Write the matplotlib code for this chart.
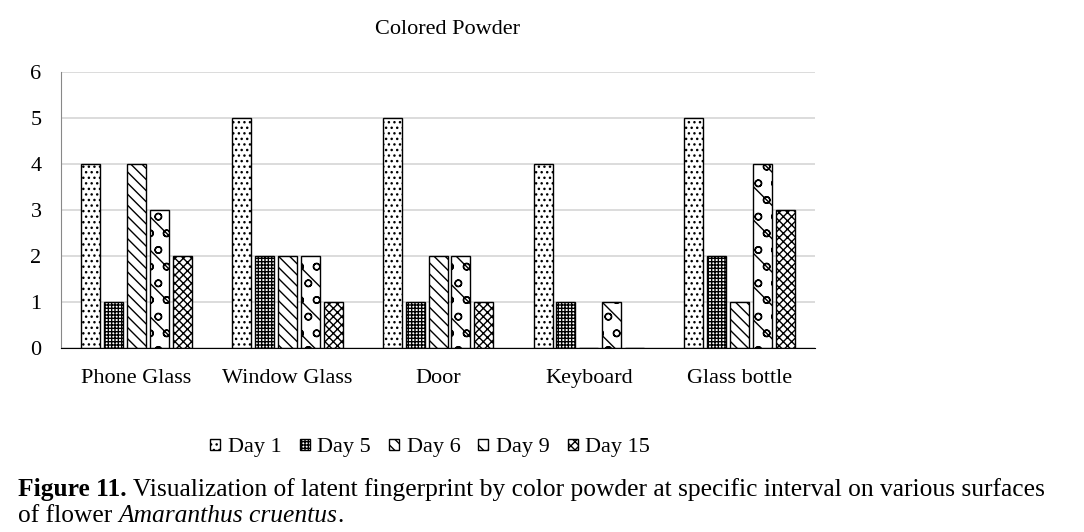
import matplotlib
matplotlib.use("Agg")
import matplotlib.pyplot as plt
import numpy as np

# Data
surfaces = ["Phone Glass", "Window Glass", "Door", "Keyboard", "Glass bottle"]
series_names = ["Day 1", "Day 5", "Day 6", "Day 9", "Day 15"]
day1 = [4, 5, 5, 4, 5]
day5 = [1, 2, 1, 1, 2]
day6 = [4, 2, 2, 0, 1]
day9 = [3, 2, 2, 1, 4]
day15 = [2, 1, 1, 0, 3]


def main():
    plt.rcParams.update({
        "font.family": ["Liberation Serif", "DejaVu Serif"],
        "font.size": 16,
        "hatch.linewidth": 1.0,
    })

    fig = plt.figure(figsize=(10.84, 5.32), dpi=100)
    ax = fig.add_axes([0.0563, 0.3459, 0.6956, 0.5188])

    values = [day1, day5, day6, day9, day15]
    hatches = ["...", "+++++", "\\\\\\", "o\\", "xxxx"]
    x = np.arange(len(surfaces))
    step = 0.152
    width = 0.126

    for i, (name, vals) in enumerate(zip(series_names, values)):
        ax.bar(x + (i - 2) * step, vals, width, label=name, color="white",
               edgecolor="black", linewidth=1.0, hatch=hatches[i], zorder=3)

    ax.set_xlim(-0.5, len(surfaces) - 0.5)
    ax.set_ylim(0, 6)
    ax.set_yticks(range(0, 7))
    ax.set_xticks(x)
    ax.set_xticklabels(surfaces)
    ax.tick_params(axis="both", length=0, labelsize=16)
    ax.tick_params(axis="y", pad=14)
    ax.tick_params(axis="x", pad=15)
    ax.grid(axis="y", color="#d9d9d9", linewidth=1.3, zorder=0)
    for s in ["top", "right"]:
        ax.spines[s].set_visible(False)
    ax.spines["left"].set_color("#888888")
    ax.spines["bottom"].set_color("black")
    ax.spines["bottom"].set_zorder(4)

    fig.text(0.413, 0.945, "Colored Powder", ha="center", va="center", fontsize=16)

    fig.legend(loc="center", bbox_to_anchor=(0.397, 0.158), ncol=5, frameon=False,
               fontsize=16, handlelength=0.45, handleheight=0.45, handletextpad=0.35,
               columnspacing=0.8)

    # caption, built from pieces so bold / italic parts sit inline
    renderer = fig.canvas.get_renderer()
    W, H = fig.get_size_inches() * fig.dpi

    def place(pieces, x0, y_base):
        xpix = x0
        for txt, kw in pieces:
            t = fig.text(xpix / W, 1 - y_base / H, txt, ha="left", va="baseline",
                         fontsize=18.4, **kw)
            bb = t.get_window_extent(renderer=renderer)
            xpix += bb.width

    place([("Figure 11.", {"fontweight": "bold"}),
           (" Visualization of latent fingerprint by color powder at specific interval on various surfaces", {})],
          18, 496)
    place([("of flower ", {}),
           ("Amaranthus cruentus", {"fontstyle": "italic"}),
           (".", {})],
          18, 522)

    fig.savefig("out.png", dpi=100)


if __name__ == "__main__":
    main()
